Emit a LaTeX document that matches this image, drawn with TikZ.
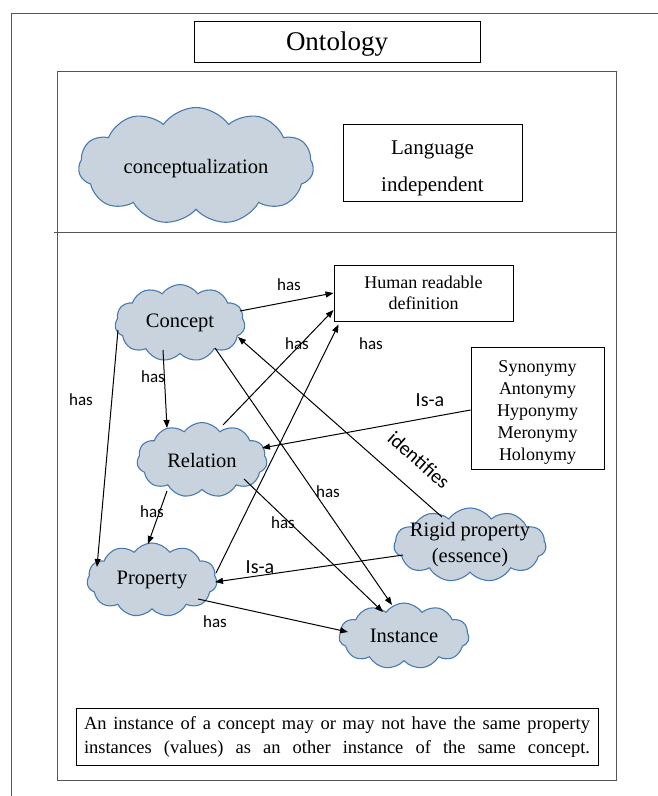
\documentclass[tikz,border=0pt]{standalone}
\usepackage{fontspec}
\setmainfont{Liberation Serif}
\newfontfamily\labfont{Carlito}
\usetikzlibrary{shapes.symbols,arrows.meta,calc}
\definecolor{cloudfill}{HTML}{C9D3DD}
\definecolor{cloudedge}{HTML}{4A7BB0}
\definecolor{framegray}{HTML}{555555}
\begin{document}
\begin{tikzpicture}[x=1pt,y=-1pt,
  cl/.style={cloud, cloud puffs=11, cloud puff arc=110, cloud ignores aspect, draw=cloudedge, fill=cloudfill, line width=1.1pt, inner sep=0pt, align=center, font=\fontsize{20.5}{26}\selectfont},
  box/.style={draw, line width=0.9pt, inner sep=0pt, align=center},
  arr/.style={-{Triangle[length=8pt,width=6pt]}, line width=1pt},
  lab/.style={font=\labfont\fontsize{17}{18}\selectfont, inner sep=0pt},
  labbig/.style={font=\labfont\fontsize{20}{22}\selectfont, inner sep=0pt}]
\useasboundingbox (0,0) rectangle (657,796);
% outer frame
\draw[framegray, line width=1pt] (11,800) -- (11,13.5) -- (660,13.5);
% title
\node[box, minimum width=286pt, minimum height=41pt, font=\fontsize{27}{30}\selectfont] (onto) at (337,42) {\rule{0pt}{22pt}Ontology};
% inner frame
\draw[framegray, line width=0.9pt] (57,71) rectangle (616,780);
\draw[framegray, line width=0.9pt] (54,232) -- (616,232);
% top section
\node[cl, minimum width=235pt, minimum height=117pt] (concz) at (196,166) {\rule{0pt}{20pt}conceptualization};
\node[box, minimum width=179pt, minimum height=77pt, font=\fontsize{21}{37}\selectfont] (lang) at (432.5,162.5) {\rule{0pt}{25pt}Language\\independent};
% main graph
\node[box, minimum width=179pt, minimum height=56pt, font=\fontsize{18}{21}\selectfont] (hrd) at (423.5,293) {Human readable\\definition};
\node[box, minimum width=133pt, minimum height=122pt, font=\fontsize{18}{22}\selectfont] (syn) at (537.5,408) {\rule{0pt}{21pt}Synonymy\\Antonymy\\Hyponymy\\Meronymy\\Holonymy};
\node[cl, minimum width=130pt, minimum height=77pt] (concept) at (180,323) {Concept};
\node[cl, minimum width=130pt, minimum height=75pt] (relation) at (202,460) {Relation};
\node[cl, minimum width=130pt, minimum height=74pt] (property) at (152,580) {Property};
\node[cl, minimum width=130pt, minimum height=66pt] (instance) at (404,636) {Instance};
\node[cl, minimum width=152pt, minimum height=74pt, inner sep=-12pt] (rigid) at (470,545) {Rigid property\\(essence)};
% note
\node[box, minimum width=522pt, minimum height=57pt] (note) at (337,736.5)
  {\parbox{506pt}{\fontsize{18.5}{24}\selectfont\tolerance=10000\hyphenpenalty=10000\parfillskip=0pt\relax
   An instance of a concept may or may not have the same property\linebreak instances (values) as an other instance of the same concept.}};
% arrows
\draw[arr] ($(concept)+(60,-12)$) -- (hrd.west);
\draw[arr] ($(relation)+(21,-35)$) -- ($(hrd.west)+(0,17)$);
\draw[arr] ($(property)+(64,-7)$) -- ($(hrd.south west)+(5,3)$);
\draw[arr] ($(concept)+(-17,27)$) -- ($(relation)+(-35,-32)$);
\draw[arr] ($(concept)+(-62,7)$) -- ($(property)+(-55,-13)$);
\draw[arr] ($(concept)+(35,25)$) -- ($(instance)+(-12,-31)$);
\draw[arr] ($(rigid)+(-28,-28)$) -- ($(concept)+(58,14)$);
\draw[arr] ($(syn.west)+(0,2)$) -- ($(relation)+(60,-12)$);
\draw[arr] ($(relation)+(-35,31)$) -- ($(property)+(-4,-36)$);
\draw[arr] ($(relation)+(42,19)$) -- ($(instance)+(-21,-24)$);
\draw[arr] ($(rigid)+(-67,10)$) -- ($(property)+(63,2)$);
\draw[arr] ($(property)+(46,19)$) -- ($(instance)+(-56,-4)$);
% labels
\node[lab] (l1) at (289,285) {has};
\node[lab] (l2) at (297,344) {has};
\node[lab] (l3) at (371,344) {has};
\node[lab] (l4) at (153,377) {has};
\node[lab] (l5) at (81,400) {has};
\node[lab] (l6) at (328,492) {has};
\node[lab] (l7) at (152,512) {has};
\node[lab] (l8) at (283,523) {has};
\node[lab] (l9) at (215,622) {has};
\node[labbig] (l10) at (430,400) {Is-a};
\node[labbig] (l11) at (260,567) {Is-a};
\node[labbig, rotate=-41.4] (l12) at (419,460) {identifies};
\end{tikzpicture}
\end{document}
